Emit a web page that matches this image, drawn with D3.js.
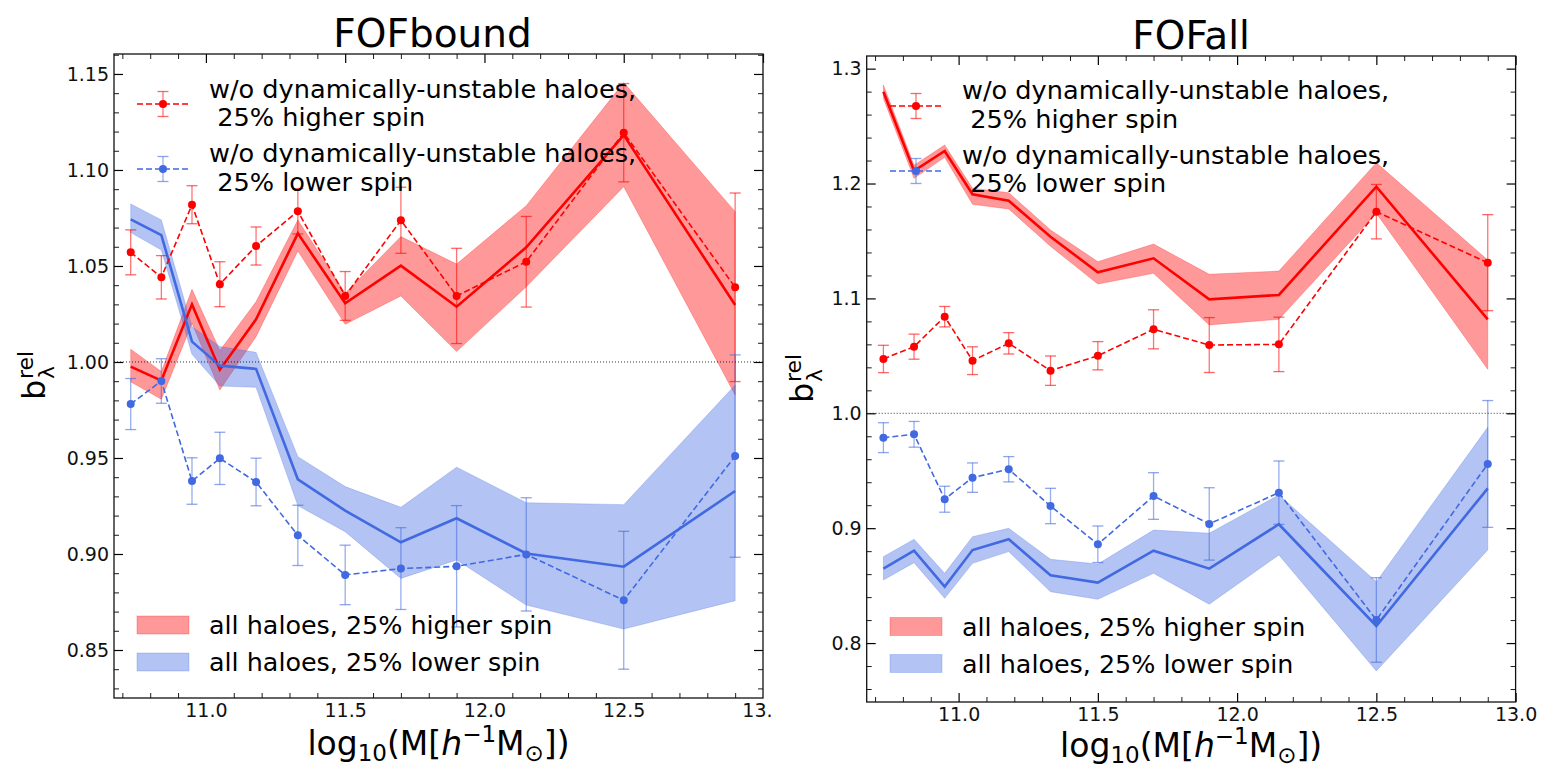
<!DOCTYPE html>
<html>
<head>
<meta charset="utf-8">
<script src="https://cdnjs.cloudflare.com/ajax/libs/d3/7.8.5/d3.min.js"></script>
<style>
  html, body { margin: 0; padding: 0; background: #fff; }
  svg { display: block; font-family: "DejaVu Sans", sans-serif; }
  text { white-space: pre; }
</style>
</head>
<body>
<svg id="chart" width="1541" height="768"></svg>
<script>
// ---------------- DATA ----------------
const massBins = [10.73, 10.84, 10.95, 11.05, 11.18, 11.33, 11.5, 11.7, 11.9, 12.15, 12.5, 12.9];

const xTickValues = [11.0, 11.5, 12.0, 12.5, 13.0];
const boundYTicks = [0.85, 0.90, 0.95, 1.00, 1.05, 1.10, 1.15];
const allYTicks = [0.8, 0.9, 1.0, 1.1, 1.2, 1.3];

// FOFbound : all haloes (band + line)
const boundHighAll   = [0.9976, 0.9903, 1.0300, 0.9960, 1.0222, 1.0670, 1.0306, 1.0502, 1.0288, 1.0597, 1.1182, 1.0297];
const boundHighAllHi = [1.0066, 0.9950, 1.0379, 1.0060, 1.0314, 1.0740, 1.0358, 1.0653, 1.0510, 1.0814, 1.1455, 1.0783];
const boundHighAllLo = [0.9897, 0.9806, 1.0202, 0.9854, 1.0132, 1.0578, 1.0196, 1.0344, 1.0054, 1.0392, 1.0913, 0.9828];
const boundLowAll    = [1.0743, 1.0661, 1.0106, 0.9981, 0.9964, 0.9389, 0.9226, 0.9061, 0.9186, 0.9003, 0.8934, 0.9328];
const boundLowAllHi  = [1.0823, 1.0740, 1.0184, 1.0080, 1.0050, 0.9507, 0.9351, 0.9243, 0.9452, 0.9267, 0.9257, 0.9880];
const boundLowAllLo  = [1.0674, 1.0583, 1.0040, 0.9875, 0.9868, 0.9252, 0.9116, 0.8873, 0.8969, 0.8734, 0.8609, 0.8757];
// FOFbound : w/o dynamically-unstable haloes (points + error bars)
const boundHighStable    = [1.0571, 1.0441, 1.0819, 1.0405, 1.0604, 1.0785, 1.0344, 1.0738, 1.0344, 1.0522, 1.1194, 1.0389];
const boundHighStableErr = [0.0117, 0.0113, 0.0099, 0.0117, 0.0099, 0.0118, 0.0127, 0.0172, 0.0248, 0.0236, 0.0256, 0.0491];
const boundLowStable     = [0.9781, 0.9901, 0.9380, 0.9498, 0.9375, 0.9097, 0.8891, 0.8924, 0.8936, 0.8998, 0.8759, 0.9510];
const boundLowStableErr  = [0.0133, 0.0116, 0.0121, 0.0136, 0.0124, 0.0157, 0.0155, 0.0213, 0.0316, 0.0295, 0.0359, 0.0527];

// FOFall : all haloes (band + line)
const allHighAll   = [1.2799, 1.2111, 1.2283, 1.1906, 1.1850, 1.1537, 1.1227, 1.1349, 1.0992, 1.1030, 1.1972, 1.0818];
const allHighAllHi = [1.2857, 1.2160, 1.2335, 1.1958, 1.1920, 1.1596, 1.1320, 1.1473, 1.1210, 1.1238, 1.2181, 1.1334];
const allHighAllLo = [1.2740, 1.2045, 1.2228, 1.1819, 1.1778, 1.1454, 1.1125, 1.1218, 1.0769, 1.0818, 1.1741, 1.0383];
const allLowAll    = [0.8648, 0.8804, 0.8491, 0.8810, 0.8903, 0.8590, 0.8526, 0.8804, 0.8648, 0.9034, 0.8149, 0.9347];
const allLowAllHi  = [0.8752, 0.8903, 0.8607, 0.8926, 0.8999, 0.8729, 0.8688, 0.8984, 0.8956, 0.9289, 0.8534, 0.9878];
const allLowAllLo  = [0.8549, 0.8700, 0.8390, 0.8694, 0.8796, 0.8447, 0.8381, 0.8607, 0.8338, 0.8767, 0.7757, 0.8810];
// FOFall : w/o dynamically-unstable haloes
const allHighStable    = [1.0473, 1.0580, 1.0841, 1.0458, 1.0609, 1.0371, 1.0501, 1.0731, 1.0594, 1.0600, 1.1755, 1.1311];
const allHighStableErr = [0.0119, 0.0109, 0.0089, 0.0121, 0.0093, 0.0128, 0.0123, 0.0170, 0.0239, 0.0237, 0.0237, 0.0418];
const allLowStable     = [0.9788, 0.9817, 0.9252, 0.9440, 0.9513, 0.9193, 0.8860, 0.9280, 0.9037, 0.9309, 0.8201, 0.9559];
const allLowStableErr  = [0.0130, 0.0112, 0.0113, 0.0128, 0.0110, 0.0154, 0.0159, 0.0203, 0.0315, 0.0276, 0.0368, 0.0552];

const legendStable = [["w/o dynamically-unstable haloes,", " 25% higher spin"],
                      ["w/o dynamically-unstable haloes,", " 25% lower spin"]];
const legendAll = ["all haloes, 25% higher spin", "all haloes, 25% lower spin"];

// ---------------- STYLE ----------------
const RED = "#ff0000";
const BLUE = "#4169e1";
const FONT = "DejaVu Sans";

const svg = d3.select("#chart");
svg.append("defs").append("clipPath").attr("id", "leftClip")
  .append("rect").attr("x", 0).attr("y", 0).attr("width", 772).attr("height", 768);

function zip(v, extra) { return massBins.map((m, i) => Object.assign({x: m, y: v[i]}, extra ? extra(i) : {})); }

function drawPanel(cfg) {
  const x = d3.scaleLinear().domain([10.67, 13.0]).range([cfg.left, cfg.right]);
  const y = d3.scaleLinear().domain(cfg.yDomain).range([cfg.bottom, cfg.top]);
  const g = svg.append("g");

  // bands
  const area = d3.area().x(d => x(d.x)).y0(d => y(d.lo)).y1(d => y(d.hi));
  const line = d3.line().x(d => x(d.x)).y(d => y(d.y));
  const bands = [
    {c: RED, v: cfg.highAll, hi: cfg.highAllHi, lo: cfg.highAllLo},
    {c: BLUE, v: cfg.lowAll, hi: cfg.lowAllHi, lo: cfg.lowAllLo}
  ];
  bands.forEach(b => {
    const data = zip(b.v, i => ({hi: b.hi[i], lo: b.lo[i]}));
    g.append("path").datum(data).attr("d", area)
      .attr("fill", b.c).attr("fill-opacity", 0.4)
      .attr("stroke", b.c).attr("stroke-opacity", 0.25).attr("stroke-width", 1);
  });
  bands.forEach(b => {
    g.append("path").datum(zip(b.v)).attr("d", line)
      .attr("fill", "none").attr("stroke", b.c).attr("stroke-width", 2.6);
  });

  // errorbar series
  const eb = [
    {c: RED, v: cfg.highStable, e: cfg.highStableErr},
    {c: BLUE, v: cfg.lowStable, e: cfg.lowStableErr}
  ];
  eb.forEach(s => {
    const data = zip(s.v, i => ({e: s.e[i]}));
    const eg = g.append("g");
    eg.selectAll("line.eb").data(data).join("line")
      .attr("x1", d => x(d.x)).attr("x2", d => x(d.x))
      .attr("y1", d => y(d.y - d.e)).attr("y2", d => y(d.y + d.e))
      .attr("stroke", s.c).attr("stroke-opacity", 0.55).attr("stroke-width", 1.3);
    [-1, 1].forEach(sg => {
      eg.selectAll(null).data(data).join("line")
        .attr("x1", d => x(d.x) - 5.5).attr("x2", d => x(d.x) + 5.5)
        .attr("y1", d => y(d.y + sg * d.e)).attr("y2", d => y(d.y + sg * d.e))
        .attr("stroke", s.c).attr("stroke-opacity", 0.6).attr("stroke-width", 1.3);
    });
    eg.append("path").datum(data).attr("d", line)
      .attr("fill", "none").attr("stroke", s.c).attr("stroke-width", 1.6)
      .attr("stroke-dasharray", "6,3");
    eg.selectAll("circle").data(data).join("circle")
      .attr("cx", d => x(d.x)).attr("cy", d => y(d.y)).attr("r", 4)
      .attr("fill", s.c);
  });

  // reference line
  g.append("line").attr("x1", cfg.left).attr("x2", cfg.right)
    .attr("y1", y(1.0)).attr("y2", y(1.0))
    .attr("stroke", "#000").attr("stroke-width", 1).attr("stroke-dasharray", "1,2").attr("opacity", 0.8);

  // axes (inward ticks on all sides)
  const xMinor = d3.range(107, 131).map(v => v / 10).filter(v => !xTickValues.some(t => Math.abs(t - v) < 1e-6));
  const yMinor = d3.range(Math.ceil(cfg.yDomain[0] / cfg.yMinorStep - 1e-6), Math.floor(cfg.yDomain[1] / cfg.yMinorStep + 1e-6) + 1)
    .map(k => +(k * cfg.yMinorStep).toFixed(4))
    .filter(v => !cfg.yTicks.some(t => Math.abs(t - v) < 1e-6));

  function styleAxis(sel, fs) {
    sel.select(".domain").remove();
    sel.selectAll(".tick line").attr("stroke", "#000").attr("stroke-width", 1.2);
    sel.selectAll(".tick text").attr("font-family", FONT).attr("font-size", fs).attr("fill", "#111");
  }
  const bx = g.append("g").attr("transform", `translate(0,${cfg.bottom})`)
    .call(d3.axisBottom(x).tickValues(xTickValues).tickSize(-9).tickPadding(6).tickFormat(d3.format(".1f")));
  styleAxis(bx, 19);
  if (cfg.clipX) bx.attr("clip-path", "url(#leftClip)");
  const bxm = g.append("g").attr("transform", `translate(0,${cfg.bottom})`)
    .call(d3.axisBottom(x).tickValues(xMinor).tickSize(-5).tickFormat(""));
  styleAxis(bxm, 0); bxm.selectAll(".tick line").attr("stroke-width", 0.9);
  const tx = g.append("g").attr("transform", `translate(0,${cfg.top})`)
    .call(d3.axisTop(x).tickValues(xTickValues).tickSize(-9).tickFormat(""));
  styleAxis(tx, 0);
  const txm = g.append("g").attr("transform", `translate(0,${cfg.top})`)
    .call(d3.axisTop(x).tickValues(xMinor).tickSize(-5).tickFormat(""));
  styleAxis(txm, 0); txm.selectAll(".tick line").attr("stroke-width", 0.9);

  const ly = g.append("g").attr("transform", `translate(${cfg.left},0)`)
    .call(d3.axisLeft(y).tickValues(cfg.yTicks).tickSize(-9).tickPadding(5).tickFormat(d3.format(cfg.yFormat)));
  styleAxis(ly, 19);
  const lym = g.append("g").attr("transform", `translate(${cfg.left},0)`)
    .call(d3.axisLeft(y).tickValues(yMinor).tickSize(-5).tickFormat(""));
  styleAxis(lym, 0); lym.selectAll(".tick line").attr("stroke-width", 0.9);
  const ry = g.append("g").attr("transform", `translate(${cfg.right},0)`)
    .call(d3.axisRight(y).tickValues(cfg.yTicks).tickSize(-9).tickFormat(""));
  styleAxis(ry, 0);
  const rym = g.append("g").attr("transform", `translate(${cfg.right},0)`)
    .call(d3.axisRight(y).tickValues(yMinor).tickSize(-5).tickFormat(""));
  styleAxis(rym, 0); rym.selectAll(".tick line").attr("stroke-width", 0.9);

  // frame
  g.append("rect").attr("x", cfg.left).attr("y", cfg.top)
    .attr("width", cfg.right - cfg.left).attr("height", cfg.bottom - cfg.top)
    .attr("fill", "none").attr("stroke", "#111").attr("stroke-width", 1.3);

  // title
  g.append("text").attr("x", (cfg.left + cfg.right) / 2 + cfg.titleDx).attr("y", cfg.top - 7)
    .attr("text-anchor", "middle").attr("font-family", FONT).attr("font-size", 39).attr("fill", "#000")
    .text(cfg.title);

  // x label
  const xl = g.append("text").attr("x", (cfg.left + cfg.right) / 2).attr("y", cfg.xLabelY)
    .attr("text-anchor", "middle").attr("font-family", FONT).attr("font-size", 33).attr("fill", "#000");
  xl.append("tspan").text("log");
  xl.append("tspan").attr("font-size", 23).attr("dy", 6).text("10");
  xl.append("tspan").attr("dy", -6).text("(M[");
  xl.append("tspan").attr("font-style", "italic").text("h");
  xl.append("tspan").attr("font-size", 23).attr("dy", -13).text("−1");
  xl.append("tspan").attr("dy", 13).text("M");
  xl.append("tspan").attr("font-size", 23).attr("dy", 6).text("⊙");
  xl.append("tspan").attr("dy", -6).text("])");

  // y label
  const yl = g.append("g").attr("transform", `translate(${cfg.yLabelX},${cfg.yLabelY}) rotate(-90)`)
    .attr("font-family", FONT).attr("fill", "#000");
  yl.append("text").attr("x", 0).attr("y", 0).attr("font-size", 32).text("b");
  yl.append("text").attr("x", 21).attr("y", -12).attr("font-size", 22).text("rel");
  yl.append("text").attr("x", 21).attr("y", 9).attr("font-size", 22).text("λ");

  // legend: error bar entries (top)
  const L = cfg.legend;
  [RED, BLUE].forEach((c, i) => {
    const cy = L.markY[i];
    const lg = g.append("g");
    lg.append("line").attr("x1", L.x0).attr("x2", L.x1).attr("y1", cy).attr("y2", cy)
      .attr("stroke", c).attr("stroke-width", 1.6).attr("stroke-dasharray", "6,3");
    const mx = (L.x0 + L.x1) / 2;
    lg.append("line").attr("x1", mx).attr("x2", mx).attr("y1", cy - 12.5).attr("y2", cy + 12.5)
      .attr("stroke", c).attr("stroke-opacity", 0.55).attr("stroke-width", 1.3);
    [-12.5, 12.5].forEach(o => lg.append("line").attr("x1", mx - 5.5).attr("x2", mx + 5.5)
      .attr("y1", cy + o).attr("y2", cy + o).attr("stroke", c).attr("stroke-opacity", 0.6).attr("stroke-width", 1.3));
    lg.append("circle").attr("cx", mx).attr("cy", cy).attr("r", 4).attr("fill", c);
    legendStable[i].forEach((t, k) => {
      lg.append("text").attr("x", L.tx).attr("y", L.textY[i][k]).attr("dy", "0.36em")
        .attr("font-family", FONT).attr("font-size", 25.6).attr("fill", "#000").text(t);
    });
  });
  // legend: band entries (bottom)
  [RED, BLUE].forEach((c, i) => {
    g.append("rect").attr("x", L.x0).attr("y", L.patchY[i]).attr("width", L.x1 - L.x0).attr("height", 18)
      .attr("fill", c).attr("fill-opacity", 0.4).attr("stroke", c).attr("stroke-opacity", 0.25);
    g.append("text").attr("x", L.tx).attr("y", L.patchY[i] + 9).attr("dy", "0.36em")
      .attr("font-family", FONT).attr("font-size", 25.4).attr("fill", "#000").text(legendAll[i]);
  });
}

drawPanel({
  title: "FOFbound", titleDx: -6, left: 114, right: 763, top: 54, bottom: 698,
  yDomain: [0.825, 1.1604], yTicks: boundYTicks, yMinorStep: 0.01, yFormat: ".2f", clipX: true,
  highAll: boundHighAll, highAllHi: boundHighAllHi, highAllLo: boundHighAllLo,
  lowAll: boundLowAll, lowAllHi: boundLowAllHi, lowAllLo: boundLowAllLo,
  highStable: boundHighStable, highStableErr: boundHighStableErr,
  lowStable: boundLowStable, lowStableErr: boundLowStableErr,
  yLabelX: 45, yLabelY: 400, xLabelY: 755,
  legend: {x0: 137, x1: 189, tx: 209, markY: [104, 169], textY: [[89, 117], [153, 182]], patchY: [616, 653]}
});

drawPanel({
  title: "FOFall", titleDx: 0, left: 866.7, right: 1515.6, top: 56, bottom: 702,
  yDomain: [0.7487, 1.311], yTicks: allYTicks, yMinorStep: 0.02, yFormat: ".1f", clipX: false,
  highAll: allHighAll, highAllHi: allHighAllHi, highAllLo: allHighAllLo,
  lowAll: allLowAll, lowAllHi: allLowAllHi, lowAllLo: allLowAllLo,
  highStable: allHighStable, highStableErr: allHighStableErr,
  lowStable: allLowStable, lowStableErr: allLowStableErr,
  yLabelX: 813, yLabelY: 403, xLabelY: 757,
  legend: {x0: 890, x1: 942, tx: 962, markY: [106, 171], textY: [[90, 119], [155, 183]], patchY: [617.5, 654.5]}
});
</script>
</body>
</html>
